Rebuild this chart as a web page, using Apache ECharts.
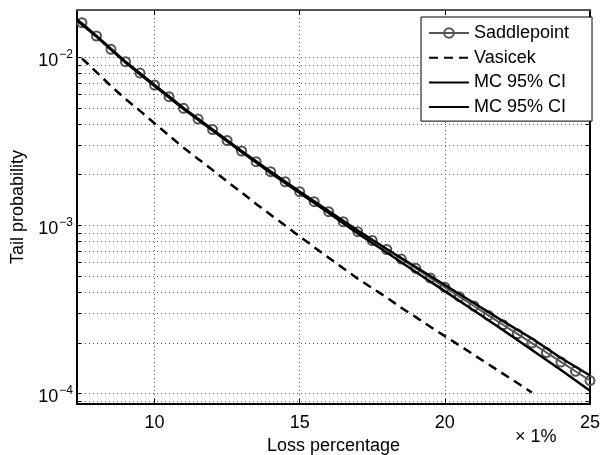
<!DOCTYPE html>
<html><head><meta charset="utf-8">
<script src="https://cdn.jsdelivr.net/npm/echarts@6/dist/echarts.min.js"></script>
<style>html,body{margin:0;padding:0;background:#fff}#c{width:600px;height:455px}</style>
</head><body><div id="c"></div>
<script>
const FONT = '"Liberation Sans", Arial, Helvetica, sans-serif';

const saddleX = [7.5, 8, 8.5, 9, 9.5, 10, 10.5, 11, 11.5, 12, 12.5, 13, 13.5, 14, 14.5, 15, 15.5, 16, 16.5, 17, 17.5, 18, 18.5, 19, 19.5, 20, 20.5, 21, 21.5, 22, 22.5, 23, 23.5, 24, 24.5, 25];
const saddleY = [0.01607, 0.01339, 0.01116, 0.00941, 0.00806, 0.00684, 0.00583, 0.00497, 0.00429, 0.003716, 0.003197, 0.002769, 0.002391, 0.002085, 0.001817, 0.001585, 0.001382, 0.001205, 0.00105, 0.000916, 0.000812, 0.000718, 0.00063, 0.000555, 0.000486, 0.000428, 0.000376, 0.000331, 0.000291, 0.000256, 0.000226, 0.000199, 0.000175, 0.0001538, 0.0001353, 0.0001192];

const vasicekX = [7.5, 8, 8.5, 9, 9.5, 10, 10.5, 11, 11.5, 12, 12.5, 13, 13.5, 14, 14.5, 15, 15.5, 16, 16.5, 17, 17.5, 18, 18.5, 19, 19.5, 20, 20.5, 21, 21.5, 22, 22.5, 23];
const vasicekY = [0.00986, 0.00816, 0.00675, 0.00565, 0.0048, 0.004046, 0.003423, 0.002896, 0.002485, 0.002137, 0.001823, 0.001568, 0.001341, 0.001156, 0.000997, 0.000859, 0.000741, 0.000641, 0.000555, 0.000481, 0.000423, 0.000372, 0.000323, 0.000284, 0.000249, 0.000219, 0.000193, 0.0001695, 0.000149, 0.000131, 0.0001151, 0.0001012];

const mcX = [7.33, 8, 9, 10, 11, 12, 13, 14, 15, 16, 17, 18, 19, 20, 21, 22, 23, 24, 25];
const mcUpper = [0.01679, 0.01339, 0.00941, 0.00684, 0.00499, 0.00372, 0.00277, 0.00209, 0.00159, 0.001216, 0.000931, 0.000723, 0.000565, 0.000441, 0.000345, 0.000269, 0.000212, 0.0001622, 0.0001276];
const mcLower = [0.01656, 0.01329, 0.00931, 0.00675, 0.00492, 0.003666, 0.00273, 0.002048, 0.001557, 0.001184, 0.000894, 0.000689, 0.000527, 0.000406, 0.000311, 0.000238, 0.000181, 0.0001376, 0.0001036];

const seriesNames = ['Saddlepoint', 'Vasicek', 'MC 95% CI', 'MC 95% CI '];
const xRange = [7.33, 25];
const yRange = [8.64e-5, 0.01912];
const xTickValues = [10, 15, 20];
const xLabelValues = [10, 15, 20, 25];
const yLabelValues = [1e-4, 1e-3, 1e-2];
const yLabelExponents = ['\u22124', '\u22123', '\u22122'];
const yGridValues = [9e-5, 1e-4, 2e-4, 3e-4, 4e-4, 5e-4, 6e-4, 7e-4, 8e-4, 9e-4,
  1e-3, 2e-3, 3e-3, 4e-3, 5e-3, 6e-3, 7e-3, 8e-3, 9e-3, 1e-2];
const xName = 'Loss percentage';
const yName = 'Tail probability';
const xUnitText = '\u00d7 1%';

const pairs = (xs, ys) => xs.map((x, i) => [x, ys[i]]);
const dotted = { color: '#555', width: 1, type: [1, 3] };

const chart = echarts.init(document.getElementById('c'), null, { renderer: 'canvas' });
chart.setOption({
  animation: false,
  backgroundColor: '#fff',
  textStyle: { fontFamily: FONT },
  grid: { left: 77, right: 10, top: 10, bottom: 51, containLabel: false, outerBoundsMode: 'none' },
  xAxis: [{
    type: 'value', min: xRange[0], max: xRange[1], position: 'bottom',
    name: xName, nameLocation: 'middle', nameGap: 32,
    nameTextStyle: { fontFamily: FONT, fontSize: 18, color: '#000' },
    axisLine: { show: true, lineStyle: { color: '#000', width: 2 } },
    axisTick: { show: true, inside: true, length: 5, customValues: xTickValues, lineStyle: { color: '#000', width: 1 } },
    axisLabel: { customValues: xLabelValues, margin: 10, fontFamily: FONT, fontSize: 18, color: '#000', showMinLabel: true, showMaxLabel: true },
    splitLine: { show: true, lineStyle: dotted }
  }, {
    type: 'value', min: xRange[0], max: xRange[1], position: 'top',
    axisLine: { show: true, lineStyle: { color: '#555', width: 2 } },
    axisTick: { show: true, inside: true, length: 5, customValues: xTickValues, lineStyle: { color: '#000', width: 1 } },
    axisLabel: { show: false },
    splitLine: { show: false }
  }],
  yAxis: [{
    type: 'log', logBase: 10, min: yRange[0], max: yRange[1], position: 'left',
    name: yName, nameLocation: 'middle', nameGap: 45, nameRotate: 90,
    nameTextStyle: { fontFamily: FONT, fontSize: 18, color: '#000' },
    axisLine: { show: true, lineStyle: { color: '#000', width: 2 } },
    axisTick: { show: true, inside: true, length: 4, customValues: yGridValues, lineStyle: { color: '#000', width: 1 } },
    axisLabel: {
      customValues: yLabelValues, margin: 4,
      formatter: function (v) {
        let idx = 0, best = 1e9;
        yLabelValues.forEach((t, i) => { const d = Math.abs(Math.log10(t) - Math.log10(v)); if (d < best) { best = d; idx = i; } });
        return '{b|10}{s|' + yLabelExponents[idx] + '}';
      },
      rich: {
        b: { fontFamily: FONT, fontSize: 18, color: '#000', lineHeight: 26, padding: [8, 0, 0, 0] },
        s: { fontFamily: FONT, fontSize: 12, color: '#000', lineHeight: 12, verticalAlign: 'top', padding: [4, 0, 0, 1] }
      }
    },
    splitLine: { show: true, lineStyle: dotted }
  }, {
    type: 'log', logBase: 10, min: yRange[0], max: yRange[1], position: 'right',
    axisLine: { show: true, lineStyle: { color: '#000', width: 2 } },
    axisTick: { show: true, inside: true, length: 4, customValues: yGridValues, lineStyle: { color: '#000', width: 1 } },
    axisLabel: { show: false },
    splitLine: { show: false }
  }],
  legend: {
    orient: 'vertical', left: 421, top: 17,
    padding: [6, 21, 4, 7], itemWidth: 40, itemHeight: 12, itemGap: 4.7,
    borderColor: '#000', borderWidth: 1, backgroundColor: '#fff',
    textStyle: { fontFamily: FONT, fontSize: 18, color: '#000', lineHeight: 20 },
    data: [
      { name: seriesNames[0] },
      { name: seriesNames[1], itemStyle: { opacity: 0 } },
      { name: seriesNames[2], itemStyle: { opacity: 0 } },
      { name: seriesNames[3], itemStyle: { opacity: 0 } }
    ]
  },
  graphic: [{
    type: 'text', left: 515, top: 428,
    style: { text: xUnitText, font: '18px "Liberation Sans", Arial, sans-serif', fill: '#000' }
  }],
  series: [{
    name: seriesNames[0], type: 'line', data: pairs(saddleX, saddleY),
    symbol: 'circle', symbolSize: 9,
    lineStyle: { color: '#555', width: 2 },
    itemStyle: { color: 'rgba(255,255,255,0)', borderColor: '#555', borderWidth: 2 },
    z: 2
  }, {
    name: seriesNames[1], type: 'line', data: pairs(vasicekX, vasicekY),
    symbol: 'none',
    lineStyle: { color: '#000', width: 2.5, type: [9, 6] },
    itemStyle: { color: '#000' },
    z: 3
  }, {
    name: seriesNames[2], type: 'line', data: pairs(mcX, mcUpper),
    symbol: 'none',
    lineStyle: { color: '#000', width: 2.5 },
    itemStyle: { color: '#000' },
    z: 4
  }, {
    name: seriesNames[3], type: 'line', data: pairs(mcX, mcLower),
    symbol: 'none',
    lineStyle: { color: '#000', width: 2.5 },
    itemStyle: { color: '#000' },
    z: 4
  }]
});
</script>
</body></html>
